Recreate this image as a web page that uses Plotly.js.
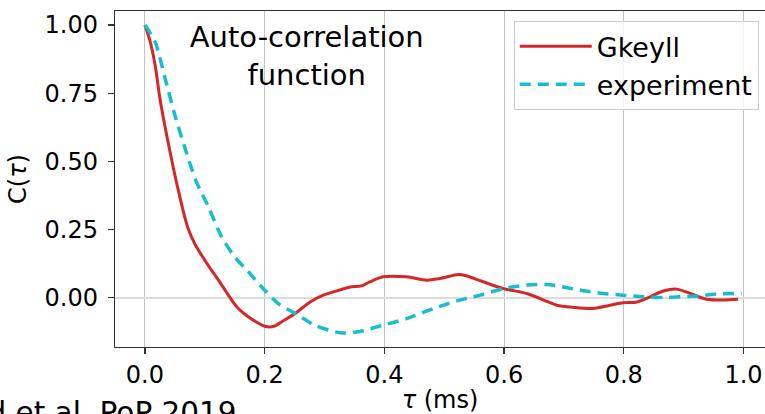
<!DOCTYPE html>
<html>
<head>
<meta charset="utf-8">
<script src="https://cdn.plot.ly/plotly-3.0.1.min.js"></script>
<style>html,body{margin:0;padding:0;background:#fff;}#chart{width:765px;height:414px;}</style>
</head>
<body>
<div id="chart"></div>
<script>
// Gkeyll simulation (red, solid)
const tauGkeyll = [0, 0.008, 0.017, 0.025, 0.033, 0.042, 0.050, 0.056, 0.064, 0.072, 0.084, 0.095, 0.100, 0.111, 0.123, 0.134, 0.145, 0.156, 0.173, 0.189, 0.200, 0.212, 0.220, 0.228, 0.251, 0.276, 0.298, 0.315, 0.343, 0.362, 0.376, 0.398, 0.437, 0.471, 0.493, 0.524, 0.538, 0.565, 0.599, 0.638, 0.666, 0.688, 0.716, 0.749, 0.777, 0.799, 0.822, 0.844, 0.866, 0.888, 0.911, 0.938, 0.966, 0.991];
const cGkeyll   = [1.000, 0.945, 0.853, 0.731, 0.633, 0.535, 0.450, 0.392, 0.318, 0.255, 0.195, 0.155, 0.138, 0.102, 0.065, 0.028, -0.008, -0.039, -0.070, -0.092, -0.104, -0.106, -0.100, -0.088, -0.057, -0.015, 0.010, 0.022, 0.040, 0.044, 0.059, 0.077, 0.077, 0.065, 0.071, 0.086, 0.080, 0.059, 0.034, 0.016, -0.008, -0.027, -0.035, -0.039, -0.027, -0.018, -0.015, 0.004, 0.025, 0.032, 0.016, -0.005, -0.008, -0.005];

// Experiment (cyan, dashed)
const tauExp = [0, 0.017, 0.033, 0.050, 0.067, 0.086, 0.106, 0.128, 0.150, 0.173, 0.200, 0.223, 0.251, 0.284, 0.326, 0.354, 0.398, 0.437, 0.482, 0.521, 0.560, 0.599, 0.638, 0.671, 0.699, 0.733, 0.766, 0.799, 0.833, 0.866, 0.894, 0.922, 0.955, 0.997];
const cExp   = [1.000, 0.938, 0.810, 0.670, 0.548, 0.425, 0.334, 0.224, 0.150, 0.095, 0.028, -0.021, -0.057, -0.100, -0.128, -0.125, -0.100, -0.076, -0.039, -0.011, 0.010, 0.034, 0.047, 0.049, 0.040, 0.026, 0.016, 0.010, 0.004, 0.001, 0.004, 0.007, 0.014, 0.016];

const seriesNames = ["Gkeyll", "experiment"];
const xTicks = [0, 0.2, 0.4, 0.6, 0.8, 1.0];
const yTicks = [0, 0.25, 0.5, 0.75, 1.0];

const FONT = "DejaVu Sans, sans-serif";

const traces = [
  {x: tauGkeyll, y: cGkeyll, name: seriesNames[0], mode: "lines",
   line: {color: "#d62728", width: 3, shape: "spline", smoothing: 0.8}},
  {x: tauExp, y: cExp, name: seriesNames[1], mode: "lines",
   line: {color: "#17becf", width: 3.5, dash: "11px,7px", shape: "spline", smoothing: 0.8}}
];

const layout = {
  width: 765, height: 414,
  margin: {l: 115, r: 0, t: 11, b: 67},
  paper_bgcolor: "#fff", plot_bgcolor: "#fff",
  font: {family: FONT, color: "#000", size: 24},
  showlegend: true,
  title: {text: "Auto-correlation<br>function", x: 0.401, xanchor: "center",
          y: 1 - 47/414, yanchor: "top", yref: "container",
          font: {family: FONT, size: 29, color: "#000"}},
  xaxis: {range: [-0.05, 1.0359], tickvals: xTicks, tickformat: ".1f",
          showgrid: true, gridcolor: "#c4c4c4", gridwidth: 1,
          zeroline: false, showline: true, linecolor: "#333", linewidth: 1.2, mirror: true,
          ticks: "outside", ticklen: 6, tickcolor: "#333", tickwidth: 1.2,
          tickfont: {family: FONT, size: 24, color: "#000"},
          title: {text: "<i>τ</i> (ms)", font: {family: FONT, size: 24, color: "#000"}, standoff: 9}},
  yaxis: {range: [-0.18, 1.051], tickvals: yTicks, tickformat: ".2f",
          showgrid: false, zeroline: true, zerolinecolor: "#dcdcdc", zerolinewidth: 1.5,
          showline: true, linecolor: "#333", linewidth: 1.2, mirror: false,
          ticks: "outside", ticklen: 6, tickcolor: "#333", tickwidth: 1.2,
          ticklabelstandoff: 5,
          tickfont: {family: FONT, size: 24, color: "#000"},
          title: {text: "C(<i>τ</i>)", font: {family: FONT, size: 24, color: "#000"}, standoff: 11}},
  legend: {x: 0.6135, y: 0.97, xanchor: "left", yanchor: "top",
           bgcolor: "rgba(255,255,255,0.8)", bordercolor: "#cccccc", borderwidth: 1,
           font: {family: FONT, size: 27, color: "#000"}, itemwidth: 72},
  annotations: [
    {text: "Bernard et al. PoP 2019", xref: "paper", yref: "paper",
     x: (239 - 115) / 650, y: (347 - 394) / 336, xanchor: "right", yanchor: "top",
     showarrow: false, font: {family: FONT, size: 29.5, color: "#000"}}
  ]
};

Plotly.newPlot("chart", traces, layout, {staticPlot: true, displayModeBar: false});
</script>
</body>
</html>
